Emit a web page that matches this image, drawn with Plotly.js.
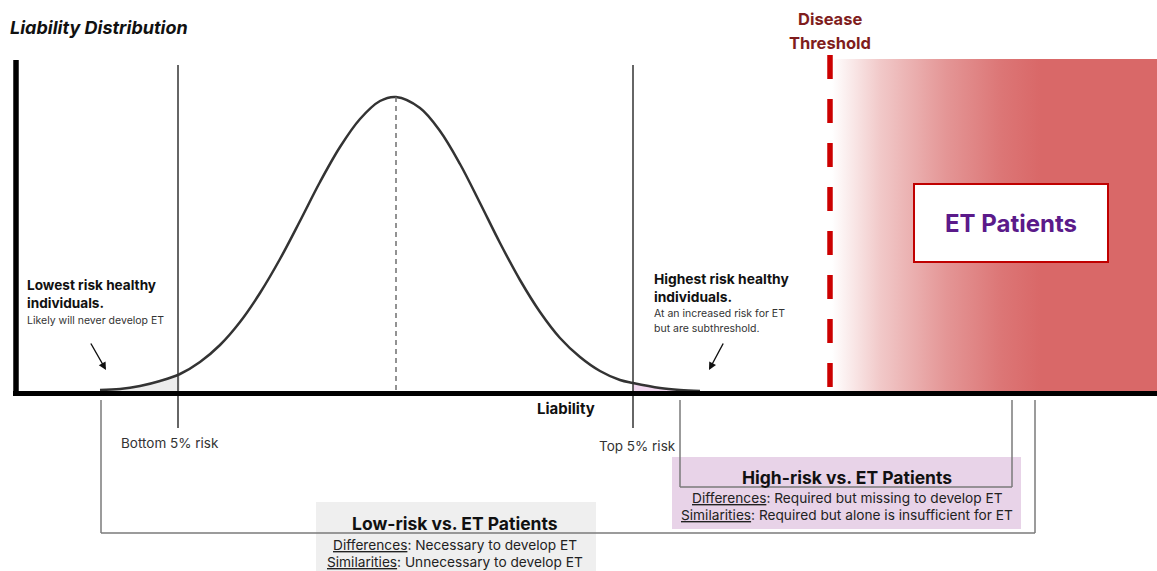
<!DOCTYPE html>
<html>
<head>
<meta charset="utf-8">
<script src="https://cdn.plot.ly/plotly-3.0.1.min.js"></script>
<style>html,body{margin:0;padding:0;background:#fff;}#chart{width:1157px;height:571px;}</style>
</head>
<body>
<div id="chart"></div>
<script>
// ---- data (liability axis units, density heights) ----
const liability = [100, 120, 140, 160, 180, 200, 220, 240, 260, 280, 300, 320, 340, 360, 380, 396, 420, 440, 460, 480, 500, 520, 540, 560, 580, 600, 620, 633, 660, 680, 700];
const density   = [2, 3, 6, 11, 18, 30, 47, 70, 99, 133, 171, 210, 245, 273, 291, 295, 284, 261, 228, 189, 149, 112, 80, 54, 35, 21, 12, 9, 4, 2, 1];
const meanLiability = 396;
const bottomCut = 178;   // bottom 5% risk
const topCut = 633;      // top 5% risk
const diseaseThreshold = 830;
const liabilityMax = 1157;
const peakDensity = 295;
const etZoneHeight = 333;

const FONT = "Inter, 'Open Sans', 'DejaVu Sans', sans-serif";
const Y = py => 392 - py;   // layout helper: picture row -> y axis value

// tails: points of the curve up to the first sample reaching each cutoff
const leftX = [], leftY = [], rightX = [], rightY = [];
const firstAtBottom = liability.findIndex(x => x >= bottomCut);
liability.forEach((x, i) => {
  if (i <= firstAtBottom) { leftX.push(x); leftY.push(density[i]); }
  if (x >= topCut) { rightX.push(x); rightY.push(density[i]); }
});

const traces = [
  { x: leftX, y: leftY, type: 'scatter', mode: 'lines', line: {width: 0, shape: 'spline'}, fill: 'tozeroy', fillcolor: '#ececec', hoverinfo: 'skip' },
  { x: rightX, y: rightY, type: 'scatter', mode: 'lines', line: {width: 0, shape: 'spline'}, fill: 'tozeroy', fillcolor: '#f2d8f0', hoverinfo: 'skip' },
  { x: [diseaseThreshold + 2, liabilityMax, liabilityMax, diseaseThreshold + 2], y: [1, 1, etZoneHeight, etZoneHeight],
    type: 'scatter', mode: 'lines', line: {width: 0}, fill: 'toself', hoverinfo: 'skip',
    fillgradient: { type: 'horizontal', start: diseaseThreshold + 2, stop: liabilityMax,
      colorscale: [[0, 'rgb(255,255,255)'], [0.15, 'rgb(241,200,200)'], [0.35, 'rgb(228,150,150)'], [0.52, 'rgb(220,118,118)'], [0.64, 'rgb(217,104,104)'], [1, 'rgb(217,104,104)']] } },
  { x: liability, y: density, type: 'scatter', mode: 'lines', line: {color: '#333333', width: 2.5, shape: 'spline', smoothing: 1}, hoverinfo: 'skip' }
];

const L = (x0, y0, x1, y1, color, width, dash, layer) => ({type: 'line', xref: 'x', yref: 'y', x0, y0, x1, y1, line: {color, width, dash: dash || 'solid'}, layer: layer || 'above'});

const shapes = [
  // comparison boxes
  {type: 'rect', xref: 'x', yref: 'y', x0: 316, x1: 596, y0: Y(502), y1: Y(571), fillcolor: '#efefef', line: {width: 0}, layer: 'above'},
  {type: 'rect', xref: 'x', yref: 'y', x0: 672, x1: 1021, y0: Y(457), y1: Y(529), fillcolor: '#e8d3e8', line: {width: 0}, layer: 'above'},
  // brackets
  L(101, Y(400), 101, Y(533), '#7a7a7a', 1.5),
  L(101, Y(533), 1035, Y(533), '#7a7a7a', 1.5),
  L(1035, Y(400), 1035, Y(533), '#7a7a7a', 1.5),
  L(680, Y(400), 680, Y(487), '#7a7a7a', 1.5),
  L(680, Y(487), 1012, Y(487), '#7a7a7a', 1.5),
  L(1012, Y(400), 1012, Y(487), '#7a7a7a', 1.5),
  // cutoff lines
  L(bottomCut, Y(65), bottomCut, Y(428), '#333333', 1.5),
  L(topCut, Y(65), topCut, Y(428), '#333333', 1.5),
  // mean line
  L(meanLiability, peakDensity, meanLiability, 2, '#6f6f6f', 1.5, '5px,4px'),
  // disease threshold
  L(diseaseThreshold, Y(55), diseaseThreshold, Y(388), '#cc0000', 5.5, '24px,20px'),
  // ET Patients box
  {type: 'rect', xref: 'x', yref: 'y', x0: 914, x1: 1108, y0: Y(184), y1: Y(262), fillcolor: '#ffffff', line: {color: '#c00000', width: 2}, layer: 'above'},
  // axes
  L(13, -1.5, liabilityMax, -1.5, '#000000', 5),
  L(16, Y(60), 16, -4, '#000000', 5.5)
];

const T = (x, py, text, size, color, xanchor) => ({x, y: Y(py), xref: 'x', yref: 'y', text, showarrow: false, xanchor: xanchor || 'center', yanchor: 'middle', font: {family: FONT, size, color: color || '#111111'}});
const A = (ax, ay, x, y) => ({x, y: Y(y), ax, ay: Y(ay), xref: 'x', yref: 'y', axref: 'x', ayref: 'y', text: '', showarrow: true, arrowhead: 2, arrowsize: 1.1, arrowwidth: 1.4, arrowcolor: '#111111'});

const annotations = [
  T(8, 27.5, '<b><i>Liability Distribution</i></b>', 18, '#111111', 'left'),
  T(830, 19, '<b>Disease</b>', 16.5, '#7f1d1d'),
  T(830, 42.5, '<b>Threshold</b>', 16.5, '#7f1d1d'),
  T(1011, 223, '<b>ET Patients</b>', 24, '#5b1a8a'),
  T(25, 285, '<b>Lowest risk healthy</b>', 13.6, '#111111', 'left'),
  T(25, 303, '<b>individuals.</b>', 13.6, '#111111', 'left'),
  T(25, 320, 'Likely will never develop ET', 10.5, '#333333', 'left'),
  T(652, 279, '<b>Highest risk healthy</b>', 13.8, '#111111', 'left'),
  T(652, 297, '<b>individuals.</b>', 13.8, '#111111', 'left'),
  T(652, 313, 'At an increased risk for ET', 10.5, '#333333', 'left'),
  T(652, 328, 'but are subthreshold.', 10.5, '#333333', 'left'),
  A(90, 342, 106, 370),
  A(724, 342, 709, 370),
  T(566, 408, '<b>Liability</b>', 15, '#111111'),
  T(119, 443, 'Bottom 5% risk', 13.5, '#333333', 'left'),
  T(597, 446, 'Top 5% risk', 13.5, '#333333', 'left'),
  T(455, 523, '<b>Low-risk vs. ET Patients</b>', 17.5, '#111111'),
  T(455, 545, '<u>Differences</u>: Necessary to develop ET', 13.7, '#222222'),
  T(455, 562, '<u>Similarities</u>: Unnecessary to develop ET', 13.7, '#222222'),
  T(847, 477, '<b>High-risk vs. ET Patients</b>', 17.5, '#111111'),
  T(847, 498, '<u>Differences</u>: Required but missing to develop ET', 13.7, '#222222'),
  T(847, 515, '<u>Similarities</u>: Required but alone is insufficient for ET', 13.7, '#222222')
];

const layout = {
  width: 1157, height: 571,
  margin: {l: 0, r: 0, t: 0, b: 0, pad: 0},
  paper_bgcolor: '#ffffff', plot_bgcolor: '#ffffff',
  showlegend: false,
  xaxis: {range: [0, 1157], visible: false, fixedrange: true},
  yaxis: {range: [-179, 392], visible: false, fixedrange: true},
  shapes, annotations
};

Plotly.newPlot('chart', traces, layout, {staticPlot: true, displayModeBar: false});
</script>
</body>
</html>
